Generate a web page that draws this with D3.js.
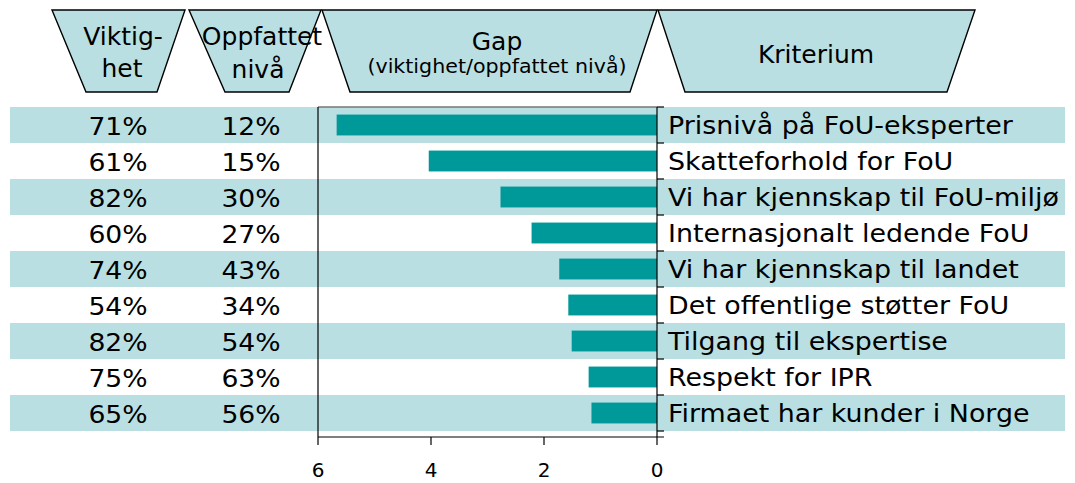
<!DOCTYPE html>
<html>
<head>
<meta charset="utf-8">
<script src="https://cdn.jsdelivr.net/npm/d3@7"></script>
<style>
  body { margin: 0; background: #fff; }
  svg text { font-family: "DejaVu Sans", Verdana, sans-serif; fill: #000; }
</style>
</head>
<body>
<div id="chart"></div>
<script>
"use strict";

var criteria = [
  "Prisnivå på FoU-eksperter",
  "Skatteforhold for FoU",
  "Vi har kjennskap til FoU-miljø",
  "Internasjonalt ledende FoU",
  "Vi har kjennskap til landet",
  "Det offentlige støtter FoU",
  "Tilgang til ekspertise",
  "Respekt for IPR",
  "Firmaet har kunder i Norge"
];
var importance = ["71%", "61%", "82%", "60%", "74%", "54%", "82%", "75%", "65%"];
var perceived = ["12%", "15%", "30%", "27%", "43%", "34%", "54%", "63%", "56%"];
var gap = [5.67, 4.04, 2.77, 2.22, 1.73, 1.57, 1.51, 1.21, 1.16];
var gapTicks = [6, 4, 2, 0];

var width = 1075, height = 483;
var bandFill = "#b9dfe2", barFill = "#009999";

var svg = d3.select("#chart").append("svg")
  .attr("width", width)
  .attr("height", height);

var y = d3.scaleBand()
  .domain(criteria)
  .range([107, 431]);

var x = d3.scaleLinear()
  .domain([6, 0])
  .range([318, 657]);

// header shapes (wide on top, narrow at the bottom)
var headers = [
  { top: [52, 185], bottom: [86, 157] },
  { top: [189, 321], bottom: [225, 289] },
  { top: [322, 657], bottom: [350, 630] },
  { top: [658, 975], bottom: [685, 947] }
];
svg.selectAll(".hdr")
  .data(headers)
  .enter().append("path")
  .attr("class", "hdr")
  .attr("d", function(d) {
    return "M" + d.top[0] + ",10L" + d.top[1] + ",10L" + d.bottom[1] + ",92L" + d.bottom[0] + ",92Z";
  })
  .style("fill", bandFill)
  .style("stroke", "#000")
  .style("stroke-width", 1.4);

// text helper, sx stretches the glyphs horizontally
function label(txt, cx, by, size, anchor, sx) {
  return svg.append("text")
    .attr("transform", "translate(" + cx + "," + by + ") scale(" + (sx || 1) + ",1)")
    .attr("text-anchor", anchor || "middle")
    .style("font-size", size + "px")
    .text(txt);
}
label("Viktig-", 123, 45, 25);
label("het", 122, 77, 25);
label("Oppfattet", 262, 45, 25);
label("nivå", 258, 78, 25);
label("Gap", 497, 50, 25);
label("(viktighet/oppfattet nivå)", 497, 73, 20, "middle", 1.03);
label("Kriterium", 816, 63, 25);

// row bands
svg.selectAll(".band")
  .data(criteria.filter(function(d, i) { return i % 2 === 0; }))
  .enter().append("rect")
  .attr("class", "band")
  .attr("x", 10)
  .attr("width", 1055)
  .attr("y", function(d) { return y(d); })
  .attr("height", y.bandwidth())
  .style("fill", bandFill);

// frame
svg.append("line")
  .attr("x1", x(6)).attr("x2", x(0))
  .attr("y1", 107).attr("y2", 107)
  .style("stroke", "#777").style("stroke-width", 1.5);
svg.append("line")
  .attr("x1", x(6)).attr("x2", x(6))
  .attr("y1", 107).attr("y2", 437)
  .style("stroke", "#000").style("stroke-width", 1.2);

// bars
var barH = y.bandwidth() * 0.58;
svg.selectAll(".bar")
  .data(criteria)
  .enter().append("rect")
  .attr("class", "bar")
  .attr("x", function(d, i) { return x(gap[i]); })
  .attr("width", function(d, i) { return x(0) - x(gap[i]); })
  .attr("y", function(d) { return y(d) + (y.bandwidth() - barH) / 2; })
  .attr("height", barH)
  .style("fill", barFill);

// table columns
criteria.forEach(function(d, i) {
  var by = y(d) + y.bandwidth() / 2 + 9.5;
  label(importance[i], 118, by, 24, "middle", 1.11);
  label(perceived[i], 251, by, 24, "middle", 1.11);
});

// category axis on the right side of the plot
var rightAxis = svg.append("g").attr("transform", "translate(" + x(0) + ",0)");
rightAxis.append("line")
  .attr("x1", 0).attr("x2", 0)
  .attr("y1", 107).attr("y2", 437)
  .style("stroke", "#000").style("stroke-width", 1.2);
rightAxis.selectAll(".rtick")
  .data(criteria.concat(["end"]))
  .enter().append("line")
  .attr("x1", 0).attr("x2", 7)
  .attr("y1", function(d, i) { return 107 + i * y.step(); })
  .attr("y2", function(d, i) { return 107 + i * y.step(); })
  .style("stroke", "#000").style("stroke-width", 1.2);
criteria.forEach(function(d) {
  label(d, x(0) + 11, y(d) + y.bandwidth() / 2 + 9, 24, "start", 1.12);
});

// value axis at the bottom
var bottomAxis = svg.append("g").attr("transform", "translate(0,437)");
bottomAxis.append("line")
  .attr("x1", x(6)).attr("x2", x(0) + 7)
  .attr("y1", 0).attr("y2", 0)
  .style("stroke", "#000").style("stroke-width", 1.2);
bottomAxis.selectAll(".btick")
  .data(gapTicks)
  .enter().append("line")
  .attr("x1", function(d) { return x(d); })
  .attr("x2", function(d) { return x(d); })
  .attr("y1", 0).attr("y2", 8)
  .style("stroke", "#000").style("stroke-width", 1.2);
bottomAxis.selectAll(".blabel")
  .data(gapTicks)
  .enter().append("text")
  .attr("x", function(d) { return x(d); })
  .attr("y", 40)
  .attr("text-anchor", "middle")
  .style("font-size", "20px")
  .text(function(d) { return d; });
</script>
</body>
</html>
